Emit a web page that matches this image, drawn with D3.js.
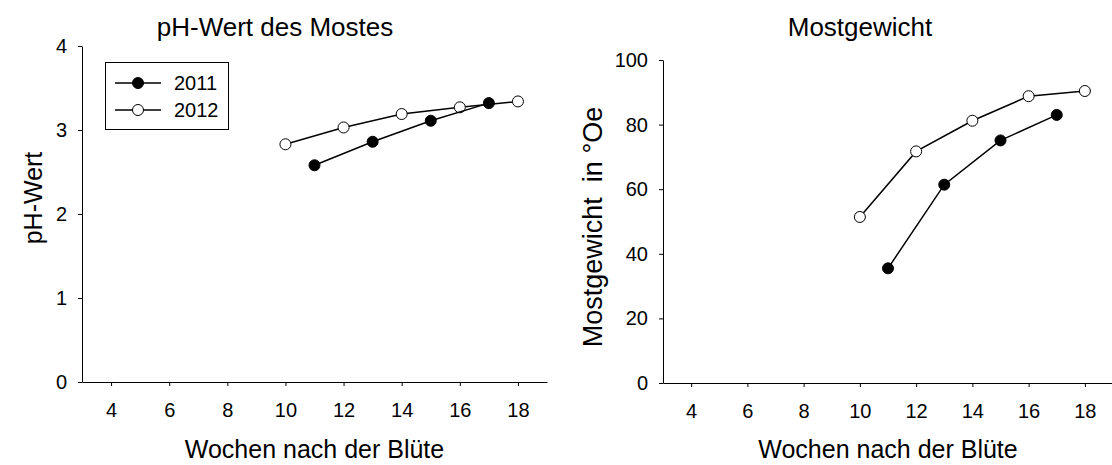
<!DOCTYPE html>
<html>
<head>
<meta charset="utf-8">
<title>Most</title>
<script src="https://d3js.org/d3.v7.min.js"></script>
<style>
  body { margin: 0; background: #fff; }
  svg text { font-family: Arial, "Liberation Sans", sans-serif; fill: #000; }
  .axis path, .axis line { stroke: #000; stroke-width: 1px; }
  .axis text { font-size: 20px; }
</style>
</head>
<body>
<svg id="chart" width="1112" height="465"></svg>
<script>
// data
var weeks2011 = [11, 13, 15, 17];
var weeks2012 = [10, 12, 14, 16, 18];
var ph2011 = [2.58, 2.86, 3.11, 3.32];
var ph2012 = [2.83, 3.03, 3.19, 3.27, 3.34];
var mg2011 = [35.5, 61.4, 75.1, 83.0];
var mg2012 = [51.4, 71.7, 81.2, 88.8, 90.4];
var xTicks = [4, 6, 8, 10, 12, 14, 16, 18];
var phTicks = [0, 1, 2, 3, 4];
var mgTicks = [0, 20, 40, 60, 80, 100];

var svg = d3.select('#chart');

function panel(opt) {
    var x = d3.scaleLinear().domain([3, 19]).range(opt.xr);
    var y = d3.scaleLinear().domain(opt.yd).range(opt.yr);

    svg.append('g').attr('class', 'axis')
        .attr('transform', 'translate(0,' + opt.yr[0] + ')')
        .call(d3.axisBottom(x).tickValues(xTicks).tickSize(4).tickSizeOuter(0).tickPadding(17));

    svg.append('g').attr('class', 'axis')
        .attr('transform', 'translate(' + opt.xr[0] + ',0)')
        .call(d3.axisLeft(y).tickValues(opt.yt).tickFormat(d3.format('d'))
            .tickSize(4).tickSizeOuter(0).tickPadding(11));

    svg.append('text').attr('x', opt.tx).attr('y', 36)
        .attr('text-anchor', 'middle').style('font-size', '26px').text(opt.title);

    svg.append('text').attr('x', (x(4) + x(18)) / 2).attr('y', 458)
        .attr('text-anchor', 'middle').style('font-size', '25px').text('Wochen nach der Blüte');

    svg.append('text')
        .attr('transform', 'translate(' + opt.ylx + ',' + opt.yly + ') rotate(-90)')
        .attr('text-anchor', 'middle').style('font-size', opt.yls).style('white-space', 'pre')
        .text(opt.ylabel);

    var line = d3.line().x(function (d) { return x(d[0]); }).y(function (d) { return y(d[1]); });

    [[opt.w2012, opt.v2012, '#fff'], [opt.w2011, opt.v2011, '#000']].forEach(function (s) {
        var pts = d3.zip(s[0], s[1]);
        svg.append('path').datum(pts).attr('d', line)
            .attr('fill', 'none').attr('stroke', '#000').attr('stroke-width', 1.5);
        svg.append('g').selectAll('circle').data(pts).join('circle')
            .attr('cx', function (d) { return x(d[0]); })
            .attr('cy', function (d) { return y(d[1]); })
            .attr('r', 5.5)
            .attr('fill', s[2]).attr('stroke', '#000').attr('stroke-width', 1);
    });
}

panel({
    xr: [82, 547], yr: [382, 46], yd: [0, 4], yt: phTicks,
    title: 'pH-Wert des Mostes', tx: 275, ylabel: 'pH-Wert', ylx: 42, yly: 198, yls: '25px',
    w2011: weeks2011, v2011: ph2011, w2012: weeks2012, v2012: ph2012
});

panel({
    xr: [663, 1113], yr: [383, 60], yd: [0, 100], yt: mgTicks,
    title: 'Mostgewicht', tx: 860, ylabel: 'Mostgewicht  in °Oe', ylx: 602, yly: 227, yls: '27px',
    w2011: weeks2011, v2011: mg2011, w2012: weeks2012, v2012: mg2012
});

// legend
var lg = svg.append('g');
lg.append('rect').attr('x', 105.5).attr('y', 62.5).attr('width', 123).attr('height', 67)
    .attr('fill', '#fff').attr('stroke', '#000').attr('stroke-width', 1);
[['2011', '#000', 83], ['2012', '#fff', 110]].forEach(function (r) {
    lg.append('line').attr('x1', 115).attr('x2', 161).attr('y1', r[2]).attr('y2', r[2])
        .attr('stroke', '#000').attr('stroke-width', 1.5);
    lg.append('circle').attr('cx', 138).attr('cy', r[2]).attr('r', 5.5)
        .attr('fill', r[1]).attr('stroke', '#000');
    lg.append('text').attr('x', 174).attr('y', r[2] + 7).style('font-size', '20px').text(r[0]);
});
</script>
</body>
</html>
